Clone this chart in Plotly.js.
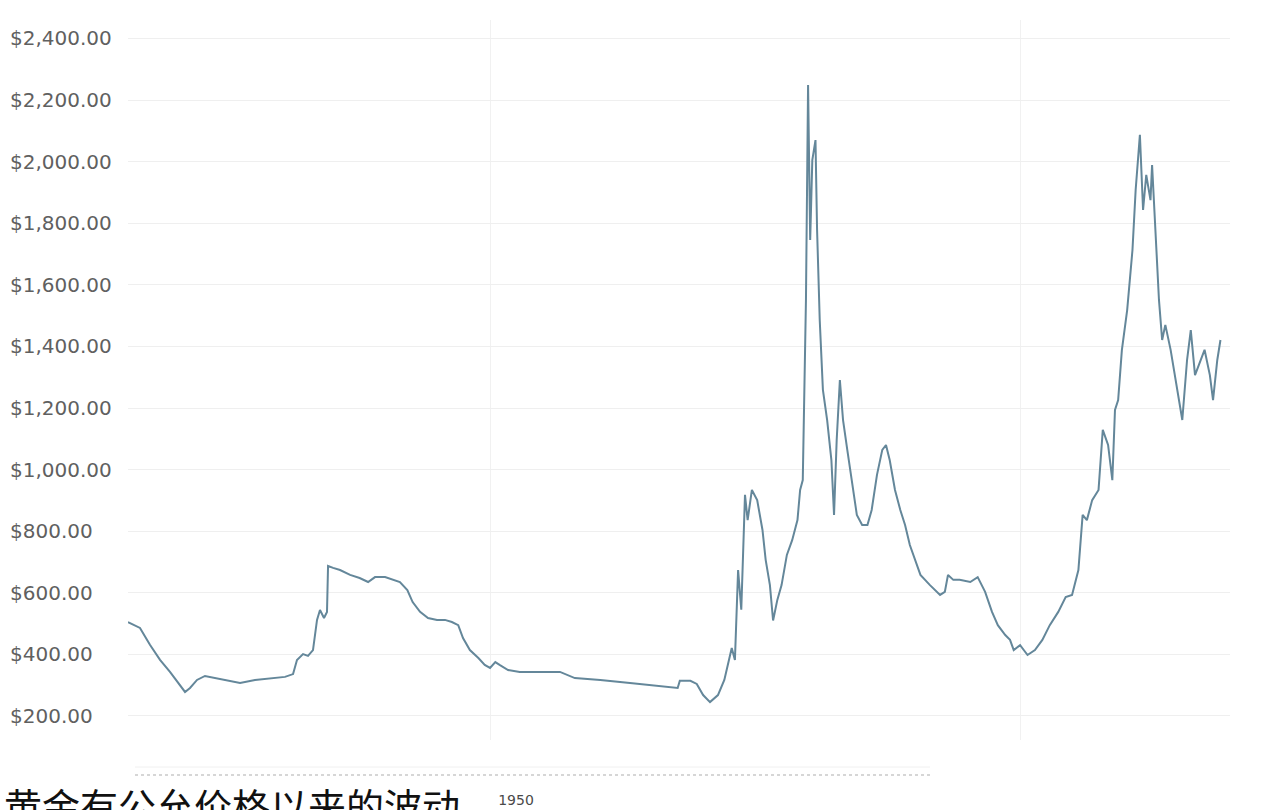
<!DOCTYPE html>
<html>
<head>
<meta charset="utf-8">
<script src="https://cdn.plot.ly/plotly-3.0.1.min.js"></script>
<style>html,body{margin:0;padding:0;background:#fff;}#chart{width:1280px;height:810px;}</style>
</head>
<body>
<div id="chart"></div>
<script>
// Inflation-adjusted gold price (USD per ounce)
const years = [
  1915.85,1916.98,1917.92,1918.87,1919.81,1920.75,1921.23,1921.70,1922.36,1923.11,
  1924.06,1925.00,1926.42,1927.83,1929.25,1930.66,1931.42,1931.79,1932.36,1932.83,
  1933.30,1933.68,1933.96,1934.34,1934.62,1934.72,1935.20,1935.85,1936.80,1937.70,
  1938.50,1939.15,1940.10,1940.85,1941.50,1942.20,1942.70,1943.40,1944.15,1945.00,
  1945.75,1946.40,1947.00,1947.45,1948.10,1948.90,1949.50,1950.00,1950.50,1950.90,
  1951.70,1952.80,1954.70,1956.60,1958.00,1960.40,1963.20,1966.00,1967.70,1967.90,
  1968.90,1969.50,1970.10,1970.75,1971.50,1972.10,1972.50,1972.80,1973.10,1973.40,
  1973.70,1974.05,1974.30,1974.70,1975.20,1975.70,1976.00,1976.40,1976.70,1977.10,
  1977.50,1978.00,1978.50,1979.00,1979.25,1979.50,1979.80,1980.00,1980.20,1980.40,
  1980.70,1980.85,1981.10,1981.40,1981.80,1982.20,1982.45,1982.70,1983.00,1983.30,
  1983.70,1984.15,1984.60,1985.10,1985.60,1986.00,1986.50,1987.00,1987.35,1987.70,
  1988.20,1988.70,1989.15,1989.60,1990.10,1990.60,1991.50,1992.45,1992.90,1993.20,
  1993.70,1994.30,1995.30,1996.00,1996.70,1997.35,1997.90,1998.60,1999.05,1999.40,
  2000.00,2000.70,2001.40,2002.10,2002.80,2003.60,2004.30,2004.90,2005.50,2005.90,
  2006.30,2006.80,2007.40,2007.80,2008.30,2008.70,2008.95,2009.25,2009.60,2010.10,
  2010.60,2010.90,2011.30,2011.60,2011.90,2012.30,2012.45,2012.70,2013.10,2013.40,
  2013.70,2014.20,2014.70,2015.30,2015.75,2016.10,2016.50,2017.00,2017.40,2017.90,
  2018.20,2018.60,2018.90
];
const prices = [
  505,486,431,382,343,301,278,291,317,330,
  323,317,307,317,323,327,336,382,401,395,
  414,512,544,518,538,687,681,674,658,648,
  635,651,651,642,635,609,570,538,518,512,
  512,505,495,453,414,388,366,356,375,366,
  349,343,343,343,323,317,307,297,291,314,
  314,304,268,245,268,317,382,421,382,674,
  545,918,836,934,901,804,707,625,510,577,
  625,723,771,836,934,966,1551,2249,1746,2005,
  2070,1778,1486,1259,1161,1031,853,1096,1291,1161,
  1064,966,853,820,820,869,983,1064,1080,1031,
  934,869,820,755,707,658,625,593,603,658,
  642,642,635,651,603,538,495,463,447,414,
  430,398,414,447,495,538,586,593,674,853,
  836,901,934,1129,1080,966,1194,1226,1388,1518,
  1713,1908,2087,1843,1957,1875,1989,1811,1551,1421,
  1470,1389,1291,1161,1356,1453,1307,1356,1389,1307,
  1226,1356,1421
];

const L = 6, R = 50, T = 20, B = 70, W = 1280, H = 810;
const pw = W - L - R, ph = H - T - B;
const px = p => (p - L) / pw;        // pixel -> paper x
const py = q => (H - B - q) / ph;    // pixel -> paper y

const trace = {
  x: years, y: prices, type: 'scatter', mode: 'lines',
  line: {color: '#64879a', width: 2}, hoverinfo: 'skip'
};

const layout = {
  width: W, height: H,
  margin: {l: L, r: R, t: T, b: B},
  paper_bgcolor: '#ffffff', plot_bgcolor: '#ffffff',
  showlegend: false,
  xaxis: {
    domain: [px(128), 1],
    range: [1915.85, 2019.8],
    tickvals: [1950, 2000],
    ticktext: ['1950', ''],
    showgrid: true, gridcolor: '#f1f1f1', gridwidth: 1,
    zeroline: false, showline: false, ticks: '',
    ticklabelshift: 26, ticklabelstandoff: 50,
    tickfont: {family: 'DejaVu Sans', size: 14, color: '#4a4a4a'}
  },
  yaxis: {
    anchor: 'free', position: 0,
    range: [122, 2460],
    tick0: 200, dtick: 200,
    tickformat: '$,.2f',
    ticklabelposition: 'inside',
    showgrid: true, gridcolor: '#efefef', gridwidth: 1,
    zeroline: false, showline: false, ticks: '',
    tickfont: {family: 'DejaVu Sans', size: 20, color: '#606060'}
  },
  shapes: [
    {type: 'line', xref: 'paper', yref: 'paper', x0: px(135), x1: px(930), y0: py(775), y1: py(775),
     line: {color: '#d6d6d6', width: 2, dash: 'dot'}},
    {type: 'line', xref: 'paper', yref: 'paper', x0: px(135), x1: px(930), y0: py(767), y1: py(767),
     line: {color: '#f0f0f0', width: 1}}
  ],
  annotations: [
    {text: '黄金有公允价格以来的波动', xref: 'paper', yref: 'paper',
     x: px(2), y: py(775), xanchor: 'left', yanchor: 'top', showarrow: false,
     font: {family: 'Noto Sans CJK SC', size: 38, color: '#111111'}}
  ]
};

Plotly.newPlot('chart', [trace], layout, {displayModeBar: false, staticPlot: true});
</script>
</body>
</html>
